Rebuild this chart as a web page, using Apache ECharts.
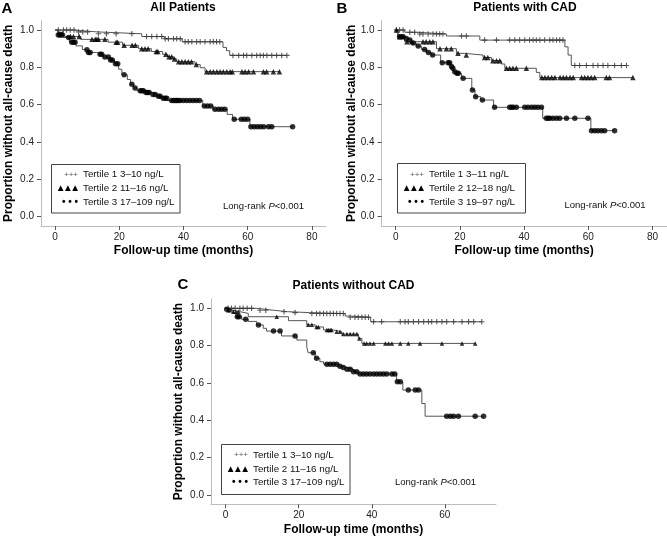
<!DOCTYPE html>
<html><head><meta charset="utf-8">
<script src="https://cdn.jsdelivr.net/npm/echarts@6/dist/echarts.min.js"></script>
<style>html,body{margin:0;padding:0;background:#fff}#c{width:667px;height:540px}</style>
</head><body><div id="c"></div>
<script>
// ---------- tick labels ----------
const xTicksAB = [0, 20, 40, 60, 80];
const xTicksC = [0, 20, 40, 60];
const yTicks = [0, 0.2, 0.4, 0.6, 0.8, 1.0];

// ---------- Panel A: All Patients ----------
const aT1Steps = [[0,1.0],[6,0.99],[13,0.98],[27,0.965],[34,0.953],[39.6,0.937],[52.3,0.907],[53.4,0.889],[54.4,0.864],[72.2,0.864]];
const aT1Censor = [1.0,2.6,3.6,4.7,5.9,7.3,8.6,10.1,13.5,16,19,23.9,28.5,30.1,31.7,33.2,34.3,35.3,36.9,37.9,39,40.5,41.5,42.6,44.1,45.2,46.7,48.3,49.3,50.3,51.3,55.4,57.2,58.7,59.7,61.3,62.8,63.9,64.9,66,67.5,69,70.6,72.2];
const aT2Steps = [[0,1.0],[1,0.982],[3,0.965],[8,0.95],[16.5,0.935],[21,0.918],[26,0.9],[30,0.885],[33.5,0.87],[35,0.857],[36.9,0.845],[37.9,0.83],[43.6,0.815],[45.2,0.798],[46.7,0.777],[70,0.777]];
const aT2Censor = [1.5,2.2,4.8,5.7,7.5,11.5,12.5,13,13.5,15.5,19,19.5,21.5,24,25,27,28,29,31.5,32,34.5,35.5,36.3,37.2,38.5,39.5,40.5,41.5,42.5,44,47.2,48.3,49.3,50.4,51.4,52.4,53.5,54.5,55.2,58.2,59.2,60.3,61.8,64.9,65.9,68,69.9];
const aT3Steps = [[0,1.0],[0.8,0.973],[2.5,0.96],[4.5,0.935],[6.5,0.915],[8.5,0.895],[10,0.88],[13,0.87],[15,0.855],[17,0.84],[18.5,0.82],[19.8,0.79],[20.8,0.76],[22.5,0.735],[23.5,0.71],[24.5,0.69],[25.5,0.675],[28,0.665],[30,0.655],[31.5,0.645],[33,0.635],[35,0.622],[46,0.593],[49.2,0.575],[53.6,0.548],[55.3,0.522],[60.7,0.482],[74,0.482]];
const aT3Censor = [1.0,1.6,2.1,4.2,5.2,5.7,6.2,9.9,10.4,10.9,14,14.5,15.5,16.6,17.3,17.8,18.8,19.5,21.5,23.9,24.9,26.5,27,27.5,28.3,28.8,29.3,30.5,31.2,32.2,32.7,33.7,34.3,34.8,36.3,36.9,37.4,37.9,38.4,39,40,41,42,43,44,45,46.5,47.5,48.5,49.8,50.9,51.9,52.9,55.8,58,59,60,61,62,63,64,65,66.5,67.5,74];

// ---------- Panel B: Patients with CAD ----------
const bT1Steps = [[0,1.0],[2.8,0.988],[6.5,0.979],[15.8,0.968],[26.2,0.946],[52.7,0.91],[53.7,0.866],[54.7,0.81],[71.9,0.81]];
const bT1Censor = [0.2,1.2,2.3,4.4,5.9,7.5,8.5,10.1,11.6,12.7,13.7,14.7,20.5,22,27.7,31.4,35.5,37.1,38.6,40.2,41.7,42.8,43.8,44.9,46.4,48,49,50.1,51.1,52.1,55.8,57.3,59.4,61.5,63,64.6,66.1,68.2,70.3,71.9];
const bT2Steps = [[0,1.0],[0.7,0.964],[2.8,0.9375],[12.7,0.9],[18.9,0.875],[21.5,0.866],[27.2,0.853],[29.8,0.836],[32.9,0.818],[34,0.795],[43.8,0.773],[44.9,0.745],[73.9,0.745]];
const bT2Censor = [0.2,1.2,3.5,5,8.5,9.5,10.6,11.6,13.8,15.8,17.3,19.4,22,27.7,28.7,30.3,31.4,32.4,34.5,35.5,36.5,37.6,40.7,45.5,46.5,47.5,48.6,49.6,51.2,52.2,53.2,54.3,55.3,57.9,58.9,59.9,60.9,62,65.6,66.6,73.9];
const bT3Steps = [[0,1.0],[0.7,0.964],[2.8,0.955],[3.8,0.946],[4.9,0.93],[6.4,0.914],[8,0.896],[9.6,0.879],[11.1,0.866],[14,0.825],[17.2,0.804],[17.6,0.795],[18,0.777],[18.9,0.768],[20.5,0.741],[23.7,0.679],[24.7,0.643],[26.5,0.625],[30.5,0.586],[45.8,0.527],[60.8,0.461],[68.2,0.461]];
const bT3Censor = [1.2,1.8,2.3,3.3,4.4,5.5,7,9,10.2,11.5,14.5,16.3,16.8,17.4,17.8,18.4,19.1,19.5,21,23.9,24.9,27,30.8,35.5,36.1,36.6,37.6,40.2,41.2,42.3,43.3,44.3,45.4,46.9,47.5,48,49,50.1,51.1,53.2,55.8,59.9,61,62,63,64.1,65.1,68.2];

// ---------- Panel C: Patients without CAD ----------
const cT1Steps = [[0,1.0],[8.5,0.99],[13,0.982],[17,0.977],[23,0.972],[32.7,0.959],[33.6,0.952],[39.7,0.928],[70.1,0.928]];
const cT1Censor = [0.7,1.6,2.6,3.9,4.8,5.9,7.1,9.4,11,16,19,23.6,24.9,25.8,26.8,27.7,28.6,29.5,30.4,31.3,32.2,34.1,35.4,36.3,37.3,38.2,39.1,40.5,42.7,47.8,49.1,50,51.4,52.8,54.2,55.5,56.4,57.8,59.2,60.5,62.4,64.7,66.5,67.9,70.1];
const cT2Steps = [[0,1.0],[0.5,0.99],[2,0.982],[3.9,0.973],[6.2,0.955],[17.2,0.934],[22.2,0.912],[24.5,0.9],[26.8,0.884],[29.5,0.875],[31.8,0.862],[36.3,0.839],[37.3,0.812],[68.3,0.812]];
const cT2Censor = [0.7,1.2,2.1,2.8,3.5,14,22.6,23.6,24.9,25.4,27.7,28.1,28.6,29,30.4,31.3,32.2,33.2,34.1,35,35.9,36.6,37.9,38.6,39.5,40.5,43.7,44.6,45.5,47.8,50,53.2,59.2,64.7,68.3];
const cT3Steps = [[0,1.0],[0.3,0.995],[1.2,0.987],[2.1,0.973],[2.8,0.955],[4.4,0.941],[6.2,0.93],[8.5,0.911],[10.3,0.893],[11.2,0.878],[15.3,0.852],[19.5,0.83],[22.2,0.794],[22.6,0.762],[24.5,0.732],[25.8,0.714],[26.8,0.701],[30.9,0.69],[32,0.683],[33.2,0.673],[35,0.66],[36.3,0.648],[46.8,0.606],[48.5,0.562],[53.7,0.49],[54.6,0.422],[70.6,0.422]];
const cT3Censor = [0.3,3.2,3.7,5.5,9,13.1,14.9,19,24,24.9,27.7,28.6,29.5,30.4,31.3,32.2,33.2,34.1,35,35.9,36.8,37.7,38.6,39.5,40.5,41.4,42.3,43.2,44.1,45.5,46.3,47,47.8,50,51.9,52.8,60.5,61.5,62.4,63.7,68.3,70.6];

// ---------- texts ----------
const panelLetters = ['A', 'B', 'C'];
const panelTitles = ['All Patients', 'Patients with CAD', 'Patients without CAD'];
const legendA = ['Tertile 1 3–10 ng/L', 'Tertile 2 11–16 ng/L', 'Tertile 3 17–109 ng/L'];
const legendB = ['Tertile 1 3–11 ng/L', 'Tertile 2 12–18 ng/L', 'Tertile 3 19–97 ng/L'];
const legendC = ['Tertile 1 3–10 ng/L', 'Tertile 2 11–16 ng/L', 'Tertile 3 17–109 ng/L'];
const xAxisName = 'Follow-up time (months)';
const yAxisName = 'Proportion without all-cause death';

// ---------- build ----------
const FONT = '"Liberation Sans", Arial, Helvetica, sans-serif';
function levelAt(steps, t) {
  let s = steps[0][1];
  for (const p of steps) { if (p[0] <= t + 1e-9) s = p[1]; else break; }
  return s;
}
function censorPts(steps, times) { return times.map(t => [t, levelAt(steps, t)]); }

const PLUS = 'path://M4,0H6V4H10V6H6V10H4V6H0V4H4Z';

const panels = [
  { grid: {left: 41, top: 20.7, width: 285, height: 205.3}, xMin: -4.4, xMax: 84.4, xTicks: xTicksAB, yGap: 26,
    curves: [[aT1Steps, aT1Censor], [aT2Steps, aT2Censor], [aT3Steps, aT3Censor]], triSize: 5.5,
    letter: [7, 8.5], title: [183, 7.5], legend: {x: 51.5, y: 164.5, w: 128.5, h: 48.5, rows: [174.5, 188.5, 202.5], labels: legendA},
    rank: [223, 206.5] },
  { grid: {left: 381.6, top: 20.7, width: 285, height: 205.3}, xMin: -4.4, xMax: 84.4, xTicks: xTicksAB, yGap: 24,
    curves: [[bT1Steps, bT1Censor], [bT2Steps, bT2Censor], [bT3Steps, bT3Censor]], triSize: 5.5,
    letter: [342, 8.5], title: [525, 7.5], legend: {x: 397.5, y: 163.5, w: 128, h: 49.5, rows: [174.5, 188.5, 202.5], labels: legendB},
    rank: [564.5, 205.5] },
  { grid: {left: 211, top: 299, width: 285, height: 205.3}, xMin: -4, xMax: 74, xTicks: xTicksC, yGap: 26,
    curves: [[cT1Steps, cT1Censor], [cT2Steps, cT2Censor], [cT3Steps, cT3Censor]], triSize: 4.5,
    letter: [183, 284.5], title: [353.5, 286], legend: {x: 221.5, y: 444.5, w: 128.5, h: 50, rows: [455, 468.8, 482.7], labels: legendC},
    rank: [395, 482.7] }
];

const grids = [], xAxes = [], yAxes = [], series = [], graphics = [];
panels.forEach((p, i) => {
  grids.push(Object.assign({containLabel: false, outerBoundsMode: 'none'}, p.grid));
  xAxes.push({
    type: 'value', gridIndex: i, min: p.xMin, max: p.xMax,
    name: xAxisName, nameLocation: 'middle', nameGap: 19, nameMoveOverlap: false,
    nameTextStyle: {fontFamily: FONT, fontSize: 12, fontWeight: 'bold', color: '#000'},
    axisLine: {show: true, onZero: false, lineStyle: {color: '#bdbdbd', width: 1}},
    axisTick: {show: true, length: 4, customValues: p.xTicks, lineStyle: {color: '#555'}},
    axisLabel: {customValues: p.xTicks, color: '#222', fontSize: 10, fontFamily: FONT, margin: 6},
    splitLine: {show: false}
  });
  yAxes.push({
    type: 'value', gridIndex: i, min: -0.05, max: 1.05,
    name: yAxisName, nameLocation: 'middle', nameGap: p.yGap, nameRotate: 90, nameMoveOverlap: false,
    nameTextStyle: {fontFamily: FONT, fontSize: 12, fontWeight: 'bold', color: '#000'},
    axisLine: {show: true, onZero: false, lineStyle: {color: '#bdbdbd', width: 1}},
    axisTick: {show: true, length: 4, customValues: yTicks, lineStyle: {color: '#555'}},
    axisLabel: {customValues: yTicks, color: '#222', fontSize: 10, fontFamily: FONT, margin: 7,
                formatter: v => v.toFixed(1)},
    splitLine: {show: false}
  });
  const syms = [PLUS, 'triangle', 'circle'];
  const sizes = [5.5, p.triSize, 5.5];
  const colors = ['#333', '#000', '#000'];
  p.curves.forEach((c, k) => {
    series.push({
      type: 'line', xAxisIndex: i, yAxisIndex: i, data: c[0], step: 'end', showSymbol: false,
      lineStyle: {color: '#555', width: 1}, z: 2, silent: true
    });
    series.push({
      type: 'scatter', xAxisIndex: i, yAxisIndex: i, data: censorPts(c[0], c[1]),
      symbol: syms[k], symbolSize: sizes[k], itemStyle: {color: colors[k]}, z: 3, silent: true
    });
  });
  // letters and titles
  graphics.push({type: 'text', x: p.letter[0], y: p.letter[1],
    style: {text: panelLetters[i], font: 'bold 15px ' + FONT, fill: '#000', align: 'center', verticalAlign: 'middle'}});
  graphics.push({type: 'text', x: p.title[0], y: p.title[1],
    style: {text: panelTitles[i], font: 'bold 12px ' + FONT, fill: '#000', align: 'center', verticalAlign: 'middle'}});
  // legend box
  const L = p.legend;
  graphics.push({type: 'rect', shape: {x: L.x, y: L.y, width: L.w, height: L.h},
    style: {fill: '#fff', stroke: '#444', lineWidth: 1}, z: 10});
  const symTexts = ['+++', '▲\u2009▲\u2009▲', '• • •'];
  const symFonts = ['8px ' + FONT, '7.5px "DejaVu Sans", sans-serif', 'bold 10px ' + FONT];
  const symColors = ['#555', '#000', '#000'];
  for (let r = 0; r < 3; r++) {
    graphics.push({type: 'text', x: L.x + 26.5, y: L.rows[r], z: 11,
      style: {text: symTexts[r], font: symFonts[r], fill: symColors[r], align: 'right', verticalAlign: 'middle'}});
    graphics.push({type: 'text', x: L.x + 31.5, y: L.rows[r], z: 11,
      style: {text: L.labels[r], font: '9.8px ' + FONT, fill: '#111', align: 'left', verticalAlign: 'middle'}});
  }
  graphics.push({type: 'text', x: p.rank[0], y: p.rank[1], z: 11,
    style: {text: '{n|Long-rank }{i|P}{n|<0.001}', align: 'left', verticalAlign: 'middle',
      rich: {n: {font: '9.5px ' + FONT, fill: '#111'}, i: {font: 'italic 9.5px ' + FONT, fill: '#111'}}}});
});

const chart = echarts.init(document.getElementById('c'), null, {renderer: 'canvas'});
chart.setOption({
  animation: false,
  backgroundColor: '#fff',
  grid: grids, xAxis: xAxes, yAxis: yAxes, series: series,
  graphic: {elements: graphics}
});
</script></body></html>
